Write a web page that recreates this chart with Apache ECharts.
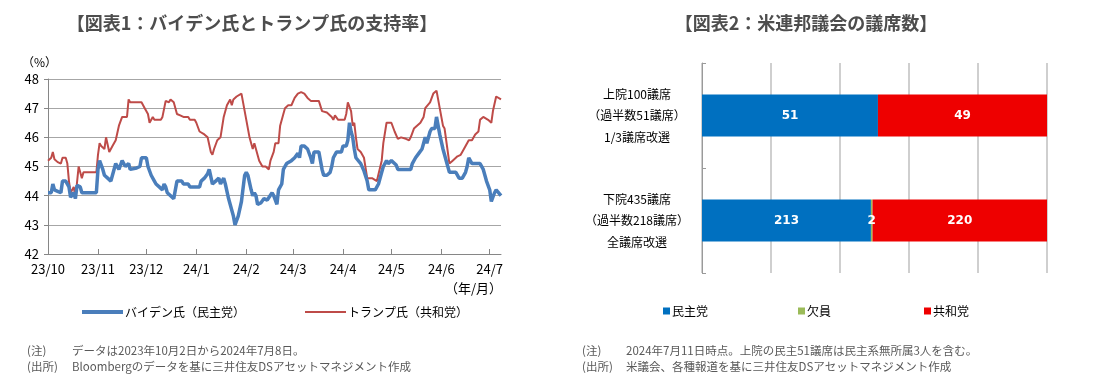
<!DOCTYPE html>
<html><head><meta charset="utf-8">
<script src="https://cdn.jsdelivr.net/npm/echarts@6/dist/echarts.min.js"></script>
<style>html,body{margin:0;padding:0;background:#fff}#c{width:1100px;height:381px}</style>
</head><body><div id="c"></div>
<script>
// ---- Chart 1 data: [days since 2023-10-01, support %]
const startDate = '2023-10-01';
const dayCount = 282; // through 2024-07-08
const bidenPoints = [[0,44.1],[2,44.1],[3,44.4],[4,44.2],[6,44.15],[8,44.1],[9,44.5],[11,44.5],[13,44.3],[14,43.95],[16,44.1],[17,43.9],[18,44.35],[20,44.3],[21,44.1],[30,44.1],[31,44.9],[32,45.2],[34,44.9],[35,44.7],[37,44.6],[39,44.5],[40,44.55],[42,45.1],[43,45.1],[44,44.9],[46,45.2],[48,45.0],[49,45.0],[50,45.1],[51,44.9],[55,44.95],[57,45.0],[58,45.3],[61,45.3],[62,45.0],[64,44.7],[66,44.5],[67,44.4],[69,44.3],[71,44.2],[72,44.4],[73,44.3],[74,44.1],[78,43.9],[80,44.5],[83,44.5],[84,44.4],[87,44.4],[88,44.3],[94,44.3],[95,44.5],[97,44.6],[99,44.75],[100,44.9],[102,44.4],[104,44.5],[106,44.6],[107,44.4],[109,44.6],[110,44.4],[112,43.9],[115,43.3],[116,43.0],[118,43.3],[120,43.8],[122,44.7],[123,44.8],[124,44.7],[126,44.2],[127,44.0],[128,44.1],[129,44.0],[130,43.7],[132,43.75],[134,43.9],[136,43.85],[137,43.8],[139,44.1],[140,44.0],[142,43.7],[143,44.2],[145,44.4],[146,44.9],[148,45.1],[149,45.1],[151,45.2],[153,45.3],[155,45.45],[156,45.3],[157,45.7],[159,45.7],[161,45.6],[163,45.3],[164,45.1],[165,45.5],[168,45.5],[169,45.5],[170,44.9],[171,44.7],[173,44.7],[175,44.8],[176,45.0],[177,45.3],[179,45.5],[182,45.5],[183,45.7],[185,45.7],[186,45.9],[187,46.5],[188,46.2],[189,46.0],[190,45.6],[191,45.3],[192,45.3],[194,45.1],[196,44.85],[198,44.5],[199,44.2],[203,44.2],[205,44.4],[207,44.8],[208,45.0],[210,45.2],[211,45.1],[213,45.2],[214,45.2],[216,45.05],[217,44.9],[225,44.9],[226,45.1],[228,45.3],[230,45.45],[232,45.6],[233,45.8],[234,46.0],[235,45.8],[237,46.2],[238,46.3],[240,46.3],[241,46.7],[242,46.4],[243,46.1],[245,45.6],[247,45.2],[249,44.8],[253,44.8],[255,44.6],[257,44.6],[259,44.8],[260,45.0],[261,45.3],[263,45.1],[265,45.1],[268,45.1],[270,44.9],[272,44.5],[274,44.2],[275,43.8],[277,44.1],[278,44.2],[281,44.0]];
const trumpPoints = [[0,45.2],[1,45.2],[2,45.3],[3,45.5],[4,45.25],[5,45.2],[6,45.15],[8,45.1],[9,45.3],[11,45.3],[12,45.1],[13,44.5],[14,44.1],[15,44.2],[16,44.3],[17,43.9],[19,45.0],[20,44.8],[21,44.6],[22,44.8],[30,44.8],[31,45.4],[32,45.8],[33,45.7],[35,45.6],[36,46.0],[37,46.0],[38,45.5],[40,45.7],[42,45.9],[44,46.4],[46,46.7],[49,46.7],[50,47.3],[51,47.2],[58,47.2],[60,47.0],[62,46.8],[63,46.5],[65,46.7],[66,46.6],[70,46.6],[71,46.7],[73,47.25],[75,47.2],[76,47.3],[78,47.2],[80,46.8],[82,46.75],[84,46.7],[87,46.7],[88,46.6],[91,46.6],[92,46.5],[94,46.2],[97,46.1],[99,46.0],[101,45.5],[102,45.4],[103,45.6],[105,45.9],[107,46.0],[109,46.7],[111,47.1],[113,47.3],[114,47.1],[115,47.3],[117,47.4],[120,47.5],[121,47.2],[123,46.6],[124,46.6],[125,46.0],[127,45.6],[128,45.8],[129,45.8],[131,45.2],[133,45.0],[135,45.0],[137,44.9],[138,45.2],[140,45.5],[141,45.8],[143,45.8],[144,46.4],[146,46.8],[147,47.0],[149,47.1],[151,47.1],[153,47.35],[155,47.5],[157,47.55],[159,47.5],[161,47.35],[163,47.25],[168,47.25],[170,46.9],[173,46.85],[176,46.7],[177,46.6],[178,46.75],[180,46.6],[184,46.6],[185,46.8],[186,47.2],[188,46.9],[189,46.4],[190,46.5],[191,46.0],[192,45.6],[194,45.5],[196,45.3],[198,44.6],[201,44.6],[204,44.5],[207,45.2],[208,45.8],[210,46.5],[213,46.5],[215,46.2],[217,45.95],[219,46.0],[222,45.95],[224,45.9],[225,46.0],[227,46.3],[231,46.5],[233,46.7],[234,47.0],[235,46.95],[237,47.2],[239,47.5],[241,47.6],[243,47.0],[245,46.4],[246,46.3],[247,45.9],[249,45.1],[251,45.2],[252,45.2],[254,45.35],[256,45.4],[258,45.6],[261,45.9],[263,45.9],[265,46.1],[267,46.2],[268,46.6],[270,46.7],[273,46.6],[275,46.5],[276,46.9],[278,47.4],[281,47.3]];
const lineNames = ['バイデン氏（民主党）', 'トランプ氏（共和党）'];

// ---- Chart 2 data
const chambers = ['上院100議席\n（過半数51議席）\n1/3議席改選', '下院435議席\n（過半数218議席）\n全議席改選'];
const chamberTotals = [100, 435];
const partyNames = ['民主党', '欠員', '共和党'];
const demSeats = [51, 213];
const vacantSeats = [0, 2];
const repSeats = [49, 220];

// build daily category list
const dates = [];
{
  const t0 = Date.UTC(2023, 9, 1);
  for (let i = 0; i < dayCount; i++) {
    const d = new Date(t0 + i * 86400000);
    dates.push(d.getUTCFullYear() + '-' + String(d.getUTCMonth() + 1).padStart(2, '0') + '-' + String(d.getUTCDate()).padStart(2, '0'));
  }
}
const isMonthStart = (i, v) => /-01$/.test(v);
const toSeries = pts => pts.map(p => [dates[p[0]], p[1]]);
const pct = (arr) => arr.map((v, i) => v / chamberTotals[i] * 100);
const seatArrays = [demSeats, vacantSeats, repSeats];

const FONT = '"Noto Sans CJK JP", "Noto Sans", sans-serif';
const gray = '#595959';
const chart = echarts.init(document.getElementById('c'), null, { renderer: 'canvas' });

const partyColors = ['#0070C0', '#9BBB59', '#EE0000'];

chart.setOption({
  animation: false,
  textStyle: { fontFamily: FONT },
  grid: [
    { left: 48, top: 79, width: 453, height: 175 },
    { left: 702, top: 63, width: 345, height: 210 }
  ],
  xAxis: [
    {
      gridIndex: 0, type: 'category', data: dates, boundaryGap: false,
      axisLine: { lineStyle: { color: '#868686', width: 1 } },
      axisTick: { interval: isMonthStart, inside: true, length: 5, lineStyle: { color: '#868686' } },
      axisLabel: { interval: isMonthStart, margin: 9, color: '#000', fontSize: 13, fontFamily: FONT,
        formatter: v => v.slice(2, 4) + '/' + String(parseInt(v.slice(5, 7), 10)) },
      splitLine: { show: false }
    },
    {
      gridIndex: 1, type: 'value', min: 0, max: 100, interval: 20,
      axisLine: { show: false }, axisTick: { show: false }, axisLabel: { show: false },
      splitLine: { show: true, lineStyle: { color: '#BFBFBF', width: 1.5 } }
    }
  ],
  yAxis: [
    {
      gridIndex: 0, type: 'value', min: 42, max: 48, interval: 1,
      axisLine: { show: true, lineStyle: { color: '#868686' } },
      axisTick: { show: true, length: 4, lineStyle: { color: '#868686' } },
      axisLabel: { color: '#000', fontSize: 13, margin: 9, fontFamily: FONT },
      splitLine: { lineStyle: { color: '#A6A6A6', width: 1 } }
    },
    {
      gridIndex: 1, type: 'category', data: chambers, inverse: true,
      axisLine: { show: true, lineStyle: { color: '#9a9a9a' } },
      axisTick: { show: true, inside: true, length: 4, lineStyle: { color: '#9a9a9a' } },
      axisLabel: { color: '#000', fontSize: 12, lineHeight: 21.5, align: 'center', margin: 65, fontFamily: FONT }
    }
  ],
  legend: [
    { data: [lineNames[0]], left: 77, top: 301, icon: 'rect', itemWidth: 41, itemHeight: 4, itemGap: 0,
      textStyle: { fontSize: 12, color: '#000', fontFamily: FONT, padding: [0, 0, 0, -3] } },
    { data: [lineNames[1]], left: 300, top: 301, icon: 'rect', itemWidth: 41, itemHeight: 2,
      textStyle: { fontSize: 12, color: '#000', fontFamily: FONT, padding: [0, 0, 0, -3] } },
    { data: [partyNames[0]], left: 658, top: 300, icon: 'rect', itemWidth: 7, itemHeight: 7,
      textStyle: { fontSize: 12, color: '#000', fontFamily: FONT, padding: [0, 0, 0, -3] } },
    { data: [partyNames[1]], left: 793, top: 300, icon: 'rect', itemWidth: 7, itemHeight: 7,
      textStyle: { fontSize: 12, color: '#000', fontFamily: FONT, padding: [0, 0, 0, -3] } },
    { data: [partyNames[2]], left: 919, top: 300, icon: 'rect', itemWidth: 7, itemHeight: 7,
      textStyle: { fontSize: 12, color: '#000', fontFamily: FONT, padding: [0, 0, 0, -3] } }
  ],
  series: [
    { name: lineNames[0], type: 'line', xAxisIndex: 0, yAxisIndex: 0, data: toSeries(bidenPoints),
      showSymbol: false, symbol: 'none', lineStyle: { color: '#4A7EBB', width: 3.5 }, itemStyle: { color: '#4A7EBB' }, z: 3 },
    { name: lineNames[1], type: 'line', xAxisIndex: 0, yAxisIndex: 0, data: toSeries(trumpPoints),
      showSymbol: false, symbol: 'none', lineStyle: { color: '#BE4B48', width: 2 }, itemStyle: { color: '#BE4B48' }, z: 2 }
  ].concat(partyNames.map((n, k) => ({
    name: n, type: 'bar', xAxisIndex: 1, yAxisIndex: 1, stack: 'seats', barWidth: 42,
    data: pct(seatArrays[k]),
    itemStyle: { color: partyColors[k] },
    label: {
      show: true, position: 'inside', color: '#fff', fontWeight: 'bold', fontSize: 12,
      fontFamily: '"DejaVu Sans", sans-serif',
      formatter: p => seatArrays[k][p.dataIndex] > 0 ? String(seatArrays[k][p.dataIndex]) : ''
    }
  }))),
  graphic: [
    { type: 'text', x: 252, y: 23, style: { text: '【図表1：バイデン氏とトランプ氏の支持率】', fill: '#4d4d4d', font: 'bold 18px ' + FONT, textAlign: 'center', textVerticalAlign: 'middle' } },
    { type: 'text', x: 806, y: 23, style: { text: '【図表2：米連邦議会の議席数】', fill: '#4d4d4d', font: 'bold 18px ' + FONT, textAlign: 'center', textVerticalAlign: 'middle' } },
    { type: 'text', x: 22, y: 62, style: { text: '（%）', fill: '#000', font: '12px ' + FONT, textAlign: 'left', textVerticalAlign: 'middle' } },
    { type: 'text', x: 502, y: 288, style: { text: '（年/月）', fill: '#000', font: '13px ' + FONT, textAlign: 'right', textVerticalAlign: 'middle' } },
    { type: 'text', x: 27, y: 351, style: { text: '(注)', fill: gray, font: '11.5px ' + FONT, textVerticalAlign: 'middle' } },
    { type: 'text', x: 72, y: 351, style: { text: 'データは2023年10月2日から2024年7月8日。', fill: gray, font: '11.5px ' + FONT, textVerticalAlign: 'middle' } },
    { type: 'text', x: 27, y: 367, style: { text: '(出所)', fill: gray, font: '11.5px ' + FONT, textVerticalAlign: 'middle' } },
    { type: 'text', x: 72, y: 367, style: { text: 'Bloombergのデータを基に三井住友DSアセットマネジメント作成', fill: gray, font: '11.5px ' + FONT, textVerticalAlign: 'middle' } },
    { type: 'text', x: 582, y: 351, style: { text: '(注)', fill: gray, font: '11.5px ' + FONT, textVerticalAlign: 'middle' } },
    { type: 'text', x: 626, y: 351, style: { text: '2024年7月11日時点。上院の民主51議席は民主系無所属3人を含む。', fill: gray, font: '11.5px ' + FONT, textVerticalAlign: 'middle' } },
    { type: 'text', x: 582, y: 367, style: { text: '(出所)', fill: gray, font: '11.5px ' + FONT, textVerticalAlign: 'middle' } },
    { type: 'text', x: 626, y: 367, style: { text: '米議会、各種報道を基に三井住友DSアセットマネジメント作成', fill: gray, font: '11.5px ' + FONT, textVerticalAlign: 'middle' } }
  ]
});
</script></body></html>
